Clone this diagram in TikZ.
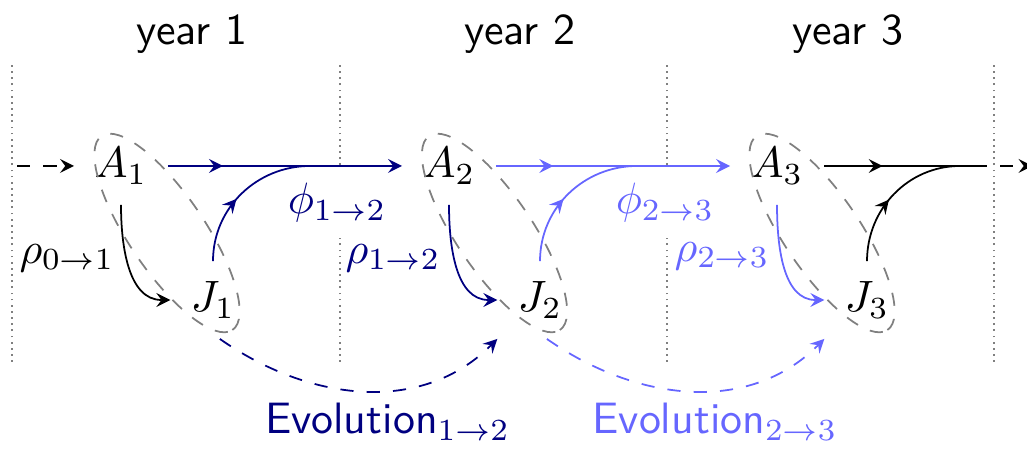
\documentclass[tikz,border=0pt]{standalone}
\usepackage{amsmath}
\usepackage{amssymb}
\usetikzlibrary{decorations.markings}

\definecolor{evoone}{RGB}{0,0,128}
\definecolor{evotwo}{RGB}{102,102,255}

\tikzset{
    stage/.style = {inner sep = 4.5pt},
    family/.style = {gray, dashed},
    yearline/.style = {gray, densely dotted},
    midarrow/.style = {postaction = {decorate},
        decoration = {markings, mark = at position #1 with {\arrow{stealth}}}},
}

\begin{document}
\begin{tikzpicture}
        \useasboundingbox (0,0) rectangle (8.216,3.608);
        % year boundaries
        \foreach \x in {0.096,2.72,5.336,7.952}
            \draw[yearline] (\x,0.712) -- (\x,3.112);
        \node[anchor = base, font = \sffamily] (year1) at (1.536,3.248) {year 1};
        \node[anchor = base, font = \sffamily] (year2) at (4.16,3.248) {year 2};
        \node[anchor = base, font = \sffamily] (year3) at (6.784,3.248) {year 3};

        % stages
        \node[stage] (A1) at (0.968,2.28) {$A_1$};
        \node[stage] (J1) at (1.704,1.208) {$J_1$};
        \node[stage] (A2) at (3.592,2.28) {$A_2$};
        \node[stage] (J2) at (4.32,1.208) {$J_2$};
        \node[stage] (A3) at (6.216,2.28) {$A_3$};
        \node[stage] (J3) at (6.936,1.208) {$J_3$};
        \foreach \i in {1,2,3} {
            \path (A\i) -- (J\i) coordinate[midway] (m\i);
            \draw[family, rotate around = {-56:(m\i)}] (m\i) ellipse (0.936 and 0.304);
        }

        % labels
        \node[fill = white, anchor = north, inner xsep = 1pt, inner ysep = 3.5pt, text = evoone] (phi12) at (2.696,2.272) {$\phi_{1\to 2}$};
        \node[fill = white, anchor = north, inner xsep = 1pt, inner ysep = 3.5pt, text = evotwo] (phi23) at (5.32,2.272) {$\phi_{2\to 3}$};
        \node (rho01) at (0.536,1.544) {$\rho_{0\to 1}$};
        \node[text = evoone] (rho12) at (3.144,1.544) {$\rho_{1\to 2}$};
        \node[text = evotwo] (rho23) at (5.776,1.56) {$\rho_{2\to 3}$};
        \node[anchor = base, font = \sffamily, text = evoone] (evo12) at (3.10,0.136) {Evolution$_{1\to 2}$};
        \node[anchor = base, font = \sffamily, text = evotwo] (evo23) at (5.72,0.136) {Evolution$_{2\to 3}$};

        % transitions
        \coordinate (in) at (0.136,2.28);
        \coordinate (c12) at (2.48,2.28);
        \coordinate (c23) at (5.096,2.28);
        \coordinate (c34) at (7.68,2.28);
        \coordinate (end) at (7.896,2.28);
        \coordinate (out) at (8.0,2.28);
        \coordinate (outend) at (8.26,2.28);

        \draw[dashed, -stealth] (in) -- (A1);
        \draw[-stealth] (A1) to[out = -90, in = 180] (J1);
        \draw[evoone, -stealth, midarrow = 0.235] (A1) -- (A2);
        \draw[evoone, midarrow = 0.45] (J1) to[out = 90, in = 180] (c12);
        \draw[evoone, -stealth] (A2) to[out = -90, in = 180] (J2);
        \draw[evoone, dashed, -stealth] (J1.-80) to[out = -35, in = -135] (J2.south west);

        \draw[evotwo, -stealth, midarrow = 0.245] (A2) -- (A3);
        \draw[evotwo, midarrow = 0.45] (J2) to[out = 90, in = 180] (c23);
        \draw[evotwo, -stealth] (A3) to[out = -90, in = 180] (J3);
        \draw[evotwo, dashed, -stealth] (J2.-80) to[out = -35, in = -135] (J3.south west);

        \draw[midarrow = 0.36] (A3) -- (end);
        \draw[midarrow = 0.45] (J3) to[out = 90, in = 180] (c34);
        \draw[dashed, -stealth] (out) -- (outend);
    \end{tikzpicture}
\end{document}
